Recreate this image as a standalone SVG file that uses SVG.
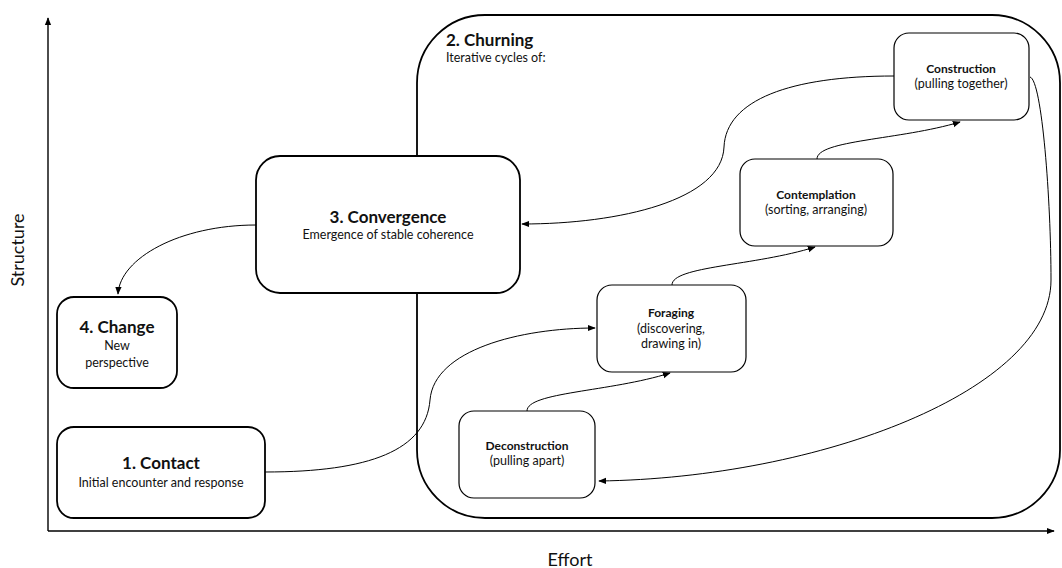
<svg xmlns="http://www.w3.org/2000/svg" width="1062" height="568" viewBox="0 0 1062 568">
<style>
text{font-family:Lato,"Liberation Sans",sans-serif;fill:#111;text-anchor:middle}
.big{fill:#fff;stroke:#000;stroke-width:1.8}
.small{fill:#fff;stroke:#000;stroke-width:1.2}
.conn{fill:none;stroke:#000;stroke-width:1}
.axis{fill:none;stroke:#000;stroke-width:1.4}
.t1{font-size:17px;font-weight:bold}
.t2{font-size:12.5px}
.s1{font-size:12px;font-weight:bold}
.s2{font-size:12.5px}
.ax{font-size:18px}
</style>
<defs>
<marker id="ah" viewBox="0 0 10 10" refX="9" refY="5" markerWidth="8" markerHeight="8" markerUnits="userSpaceOnUse" orient="auto">
<path d="M0,1 L10,5 L0,9 Z" fill="#000"/>
</marker>
</defs>
<rect width="1062" height="568" fill="#fff"/>
<g id="axes">
<path class="axis" d="M48,531 L48,18" marker-end="url(#ah)"/>
<path class="axis" d="M48,531 L1054,531" marker-end="url(#ah)"/>
<text class="ax" transform="translate(24,250) rotate(-90)">Structure</text>
<text class="ax" x="570" y="566">Effort</text>
</g>
<g id="churning">
<rect class="big" x="417" y="15" width="643" height="503" rx="68" ry="68"/>
<text class="t1" x="446" y="46" style="text-anchor:start">2. Churning</text>
<text class="t2" x="446" y="62" style="text-anchor:start">Iterative cycles of:</text>
</g>
<g id="connectors">
<path class="conn" d="M256,225 C180,225 120,258 118,294" marker-end="url(#ah)"/>
<path class="conn" d="M894,76 C790,76 726,100 724,147 C722,200 620,224 522,224" marker-end="url(#ah)"/>
<path class="conn" d="M817,159 C817,140 900,140 960,122" marker-end="url(#ah)"/>
<path class="conn" d="M672,285 C672,266 755,266 815,247" marker-end="url(#ah)"/>
<path class="conn" d="M527,411 C527,392 610,392 670,373" marker-end="url(#ah)"/>
<path class="conn" d="M265,472 C370,472 426,450 430,400 C434,350 520,328 595,328" marker-end="url(#ah)"/>
<path class="conn" d="M1030,77 C1042,80 1051,200 1051,280 C1051,390 820,478 599,481" marker-end="url(#ah)"/>
</g>
<g id="convergence">
<rect class="big" x="256" y="156" width="264" height="137" rx="24" ry="24"/>
<text class="t1" x="388" y="223">3. Convergence</text>
<text class="t2" x="388" y="239">Emergence of stable coherence</text>
</g>
<g id="change">
<rect class="big" x="57" y="297" width="120" height="91" rx="17" ry="17"/>
<text class="t1" x="117" y="333">4. Change</text>
<text class="t2" x="117" y="350">New</text>
<text class="t2" x="117" y="367">perspective</text>
</g>
<g id="contact">
<rect class="big" x="57" y="427" width="208" height="91" rx="17" ry="17"/>
<text class="t1" x="161" y="469">1. Contact</text>
<text class="t2" x="161" y="487">Initial encounter and response</text>
</g>
<g id="construction">
<rect class="small" x="894" y="33" width="135" height="87" rx="15" ry="15"/>
<text class="s1" x="961" y="73">Construction</text>
<text class="s2" x="961" y="88">(pulling together)</text>
</g>
<g id="contemplation">
<rect class="small" x="740" y="159" width="153" height="87" rx="15" ry="15"/>
<text class="s1" x="816" y="199">Contemplation</text>
<text class="s2" x="816" y="214">(sorting, arranging)</text>
</g>
<g id="foraging">
<rect class="small" x="597" y="285" width="149" height="87" rx="15" ry="15"/>
<text class="s1" x="671" y="317">Foraging</text>
<text class="s2" x="671" y="333">(discovering,</text>
<text class="s2" x="671" y="348">drawing in)</text>
</g>
<g id="deconstruction">
<rect class="small" x="459" y="411" width="136" height="87" rx="15" ry="15"/>
<text class="s1" x="527" y="450">Deconstruction</text>
<text class="s2" x="527" y="465">(pulling apart)</text>
</g>
</svg>
